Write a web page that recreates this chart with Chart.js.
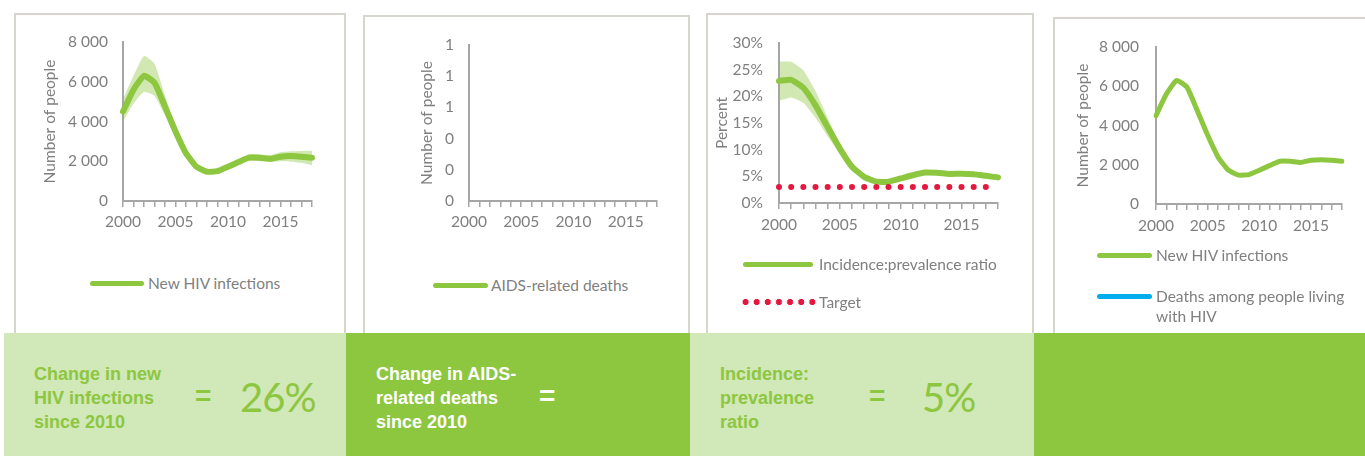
<!DOCTYPE html>
<html>
<head>
<meta charset="utf-8">
<script src="https://cdn.jsdelivr.net/npm/chart.js@4.4.0/dist/chart.umd.min.js"></script>
<style>
body{margin:0;background:#fff;}
#page{position:relative;width:1365px;height:456px;overflow:hidden;font-family:Lato,sans-serif;}
.panel{position:absolute;border:2px solid #d8d5ce;box-sizing:border-box;background:#fff;}
canvas{position:absolute;}
.sw{position:absolute;height:5px;border-radius:3px;}
.lg{position:absolute;color:#7f7f7f;font-size:15.5px;line-height:20px;white-space:nowrap;}
.dots{position:absolute;height:8px;background:radial-gradient(circle,#e5173f 2.8px,transparent 3.4px) repeat-x;background-size:11.14px 8px;}
.box{position:absolute;top:333px;height:123px;}
.light{background:#d1e8b8;color:#8dc63f;}
.dark{background:#8dc63f;color:#fff;}
.txt{position:absolute;font-family:"Liberation Sans",Arial,sans-serif;font-weight:bold;font-size:18px;line-height:24px;}
.eq{position:absolute;font-family:"Liberation Sans",Arial,sans-serif;font-weight:bold;font-size:28px;line-height:28px;}
.big{position:absolute;font-family:Lato,sans-serif;font-weight:400;font-size:40px;line-height:42px;letter-spacing:-1px;}
</style>
</head>
<body>
<div id="page">
  <div class="panel" style="left:14px;top:13px;width:332px;height:322px;"></div>
  <div class="panel" style="left:363px;top:15px;width:327px;height:320px;"></div>
  <div class="panel" style="left:706px;top:13px;width:328px;height:322px;"></div>
  <div class="panel" style="left:1053px;top:17px;width:330px;height:318px;"></div>

  <canvas id="c1"></canvas>
  <canvas id="c2"></canvas>
  <canvas id="c3"></canvas>
  <canvas id="c4"></canvas>

  <div class="sw" style="left:90px;top:281px;width:54px;background:#8dc63f"></div>
  <div class="lg" style="left:148px;top:273px;">New HIV infections</div>

  <div class="sw" style="left:433px;top:283px;width:55px;background:#8dc63f"></div>
  <div class="lg" style="left:491px;top:275px;">AIDS-related deaths</div>

  <div class="sw" style="left:743px;top:262px;width:70px;background:#8dc63f"></div>
  <div class="lg" style="left:819px;top:254px;">Incidence:prevalence ratio</div>
  <div class="dots" style="left:740px;top:298px;width:78px;"></div>
  <div class="lg" style="left:819px;top:292px;">Target</div>

  <div class="sw" style="left:1097px;top:253px;width:55px;background:#8dc63f"></div>
  <div class="lg" style="left:1156px;top:245px;">New HIV infections</div>
  <div class="sw" style="left:1097px;top:294px;width:55px;background:#00aeef"></div>
  <div class="lg" style="left:1156px;top:286px;">Deaths among people living<br>with HIV</div>

  <div class="box light" style="left:4px;width:342px;"></div>
  <div class="box dark" style="left:346px;width:344px;"></div>
  <div class="box light" style="left:690px;width:344px;"></div>
  <div class="box dark" style="left:1034px;width:331px;"></div>

  <div class="txt" style="left:34px;top:362px;color:#8dc63f">Change in new<br>HIV infections<br>since 2010</div>
  <div class="eq" style="left:195px;top:382px;color:#8dc63f">=</div>
  <div class="big" style="left:240px;top:376px;color:#8dc63f">26%</div>

  <div class="txt" style="left:376px;top:362px;color:#fff">Change in AIDS-<br>related deaths<br>since 2010</div>
  <div class="eq" style="left:539px;top:382px;color:#fff">=</div>

  <div class="txt" style="left:720px;top:362px;color:#8dc63f">Incidence:<br>prevalence<br>ratio</div>
  <div class="eq" style="left:869px;top:382px;color:#8dc63f">=</div>
  <div class="big" style="left:922px;top:376px;color:#8dc63f">5%</div>
</div>

<script>
// values
const years = [2000, 2001, 2002, 2003, 2004, 2005, 2006, 2007, 2008, 2009, 2010, 2011, 2012, 2013, 2014, 2015, 2016, 2017, 2018]
const labelYears = [2000, 2005, 2010, 2015]

const newInfections     = [4500, 5600, 6300, 5950, 4750, 3500, 2400, 1720, 1470, 1500, 1720, 1960, 2180, 2180, 2120, 2230, 2260, 2230, 2180]
const newInfectionsHigh = [5100, 6300, 7300, 6900, 5300, 3800, 2600, 1850, 1560, 1600, 1820, 2100, 2350, 2350, 2300, 2450, 2500, 2520, 2530]
const newInfectionsLow  = [4000, 4900, 5500, 5300, 4300, 3200, 2200, 1600, 1390, 1420, 1620, 1850, 2020, 2000, 1950, 2000, 1980, 1920, 1800]

const aidsDeaths = []
const deathsAmongPLHIV = []

const ipRatio     = [22.9, 23.1, 21.6, 18.3, 14.2, 10.2, 6.8, 4.9, 4.0, 4.0, 4.6, 5.2, 5.7, 5.65, 5.45, 5.5, 5.4, 5.1, 4.8]
const ipRatioHigh = [26.5, 26.5, 24.9, 21.0, 16.0, 11.2, 7.4, 5.3, 4.3, 4.3, 4.9, 5.5, 6.0, 6.0, 5.8, 5.85, 5.75, 5.45, 5.15]
const ipRatioLow  = [19.2, 19.8, 18.8, 16.0, 12.5, 9.2, 6.3, 4.5, 3.75, 3.75, 4.3, 4.9, 5.4, 5.35, 5.15, 5.2, 5.1, 4.8, 4.45]
const target      = [3, 3, 3, 3, 3, 3, 3, 3, 3, 3, 3, 3, 3, 3, 3, 3, 3, 3, null]

const green = '#8dc63f'
const band = 'rgba(141,198,63,0.4)'
const blue = '#00aeef'
const red = '#e5173f'
const axisGrey = '#a6a6a6'
const textGrey = '#7f7f7f'
const fontSize = 15.5

Chart.defaults.font.family = 'Lato'
Chart.defaults.font.size = fontSize
Chart.defaults.color = textGrey

function spaced(v){
    return String(v).replace(/\B(?=(\d{3})+(?!\d))/g, ' ')
}

function mainLine(label, data, width){
    return {label: label, data: data, borderColor: green, backgroundColor: green, borderWidth: width,
        pointRadius: 0, tension: 0.15, fill: false, borderCapStyle: 'round', borderJoinStyle: 'round'}
}
function bandTop(data){
    return {data: data, borderWidth: 0, pointRadius: 0, tension: 0.15, backgroundColor: band, fill: '+1'}
}
function bandBottom(data){
    return {data: data, borderWidth: 0, pointRadius: 0, tension: 0.15, fill: false}
}

// g: canvas box and plot area in page pixels
function makeChart(id, g, datasets, y){
    const cv = document.getElementById(id)
    cv.width = g.w
    cv.height = g.h
    cv.style.left = g.x + 'px'
    cv.style.top = g.y + 'px'
    const xh = 32
    const yw = g.L - g.x - 4
    return new Chart(cv, {
        type: 'line',
        data: {labels: years, datasets: datasets},
        options: {
            responsive: false,
            animation: false,
            events: [],
            layout: {padding: {left: 4, top: g.T - g.y, right: g.x + g.w - g.R, bottom: g.y + g.h - g.B - xh}},
            plugins: {legend: {display: false}, tooltip: {enabled: false}},
            scales: {
                x: {
                    grid: {drawOnChartArea: false, tickLength: 6, color: axisGrey, lineWidth: 1.5},
                    border: {color: axisGrey, width: 2},
                    ticks: {autoSkip: false, maxRotation: 0, padding: g.xp,
                        callback: function(v, i){ return labelYears.includes(years[i]) ? String(years[i]) : '' }},
                    afterFit: function(s){ s.height = xh }
                },
                y: {
                    min: y.min, max: y.max,
                    grid: {display: false, drawTicks: false},
                    border: {color: axisGrey, width: 2},
                    ticks: {stepSize: y.step, padding: g.gap, callback: y.fmt},
                    title: {display: true, text: y.title, padding: {top: Math.max(0, g.tx - g.x - 4 - fontSize * 0.6), bottom: 0}},
                    afterFit: function(s){ s.width = yw }
                }
            }
        }
    })
}

makeChart('c1', {x: 16, y: 15, w: 328, h: 232, L: 123, T: 42, R: 312, B: 201, tx: 50, gap: 15, xp: 6}, [
    mainLine('New HIV infections', newInfections, 6),
    bandTop(newInfectionsHigh),
    bandBottom(newInfectionsLow)
], {min: 0, max: 8000, step: 2000, title: 'Number of people', fmt: spaced})

makeChart('c2', {x: 365, y: 17, w: 323, h: 230, L: 469, T: 45, R: 657, B: 201, tx: 427, gap: 15, xp: 6}, [
    mainLine('AIDS-related deaths', aidsDeaths, 5)
], {min: 0, max: 1, step: 0.2, title: 'Number of people', fmt: function(v){ return String(Math.round(v)) }})

makeChart('c3', {x: 708, y: 15, w: 324, h: 234, L: 779, T: 43, R: 998, B: 203, tx: 722, gap: 16, xp: 7}, [
    {label: 'Target', data: target, showLine: false, pointRadius: 3, pointBackgroundColor: red, pointBorderWidth: 0},
    mainLine('Incidence:prevalence ratio', ipRatio, 6),
    bandTop(ipRatioHigh),
    bandBottom(ipRatioLow)
], {min: 0, max: 30, step: 5, title: 'Percent', fmt: function(v){ return v + '%' }})

makeChart('c4', {x: 1055, y: 19, w: 310, h: 232, L: 1156, T: 47, R: 1342, B: 204, tx: 1083, gap: 17, xp: 7}, [
    mainLine('New HIV infections', newInfections, 5),
    {label: 'Deaths among people living with HIV', data: deathsAmongPLHIV, borderColor: blue, borderWidth: 5, pointRadius: 0}
], {min: 0, max: 8000, step: 2000, title: 'Number of people', fmt: spaced})
</script>
</body>
</html>
